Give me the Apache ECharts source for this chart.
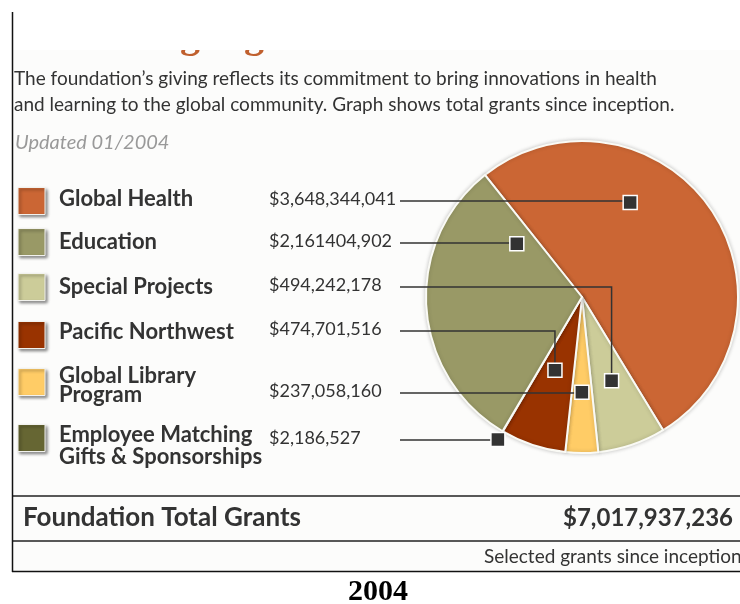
<!DOCTYPE html>
<html>
<head>
<meta charset="utf-8">
<script src="https://cdn.jsdelivr.net/npm/echarts@6/dist/echarts.min.js"></script>
<style>
  html, body { margin: 0; padding: 0; background: #fff; }
  #main { width: 740px; height: 604px; }
</style>
</head>
<body>
<div id="main"></div>
<script>
// legend order (top to bottom)
const categories = ['Global Health', 'Education', 'Special Projects', 'Pacific Northwest', 'Global Library Program', 'Employee Matching Gifts & Sponsorships']
const legendLines = [['Global Health'], ['Education'], ['Special Projects'], ['Pacific Northwest'], ['Global Library', 'Program'], ['Employee Matching', 'Gifts & Sponsorships']]
const grantValues = [3648344041, 2161404902, 494242178, 474701516, 237058160, 2186527]
const valueLabels = ['$3,648,344,041', '$2,161404,902', '$494,242,178', '$474,701,516', '$237,058,160', '$2,186,527']
const sliceColors = ['#cb6634', '#999966', '#cccc99', '#993300', '#ffcc66', '#666633']
// clockwise order of slices around the pie
const pieOrder = [0, 2, 4, 3, 5, 1]
const totalLabel = '$7,017,937,236'

const introLines = [
  'The foundation\u2019s giving reflects its commitment to bring innovations in health',
  'and learning to the global community. Graph shows total grants since inception.',
]

// layout
const CX = 582, CY = 297, R = 156
const START_CW = -38.5 // degrees clockwise from 12 o'clock
const FONT = 'Lato, "Open Sans", sans-serif'
const rowY = [201, 243, 287, 331, 393, 440]
const nameY = [[199], [242], [287], [332], [376, 395], [435, 457]]
const boxY = [201, 242, 287, 335, 382, 438]
// marker spot inside each slice: [fraction of slice angle, fraction of radius]
const markerSpot = [[0.35, 0.68], [0.89, 0.54], [0.47, 0.57], [0.58, 0.5], [0.5, 0.61], [0.5, 1.06]]

const chart = echarts.init(document.getElementById('main'))

function buildGraphic() {
  const g = []
  const total = grantValues.reduce((a, b) => a + b, 0)

  // slice angles, cw from top
  const sliceStart = {}
  let acc = START_CW
  pieOrder.forEach((i) => {
    const span = grantValues[i] / total * 360
    sliceStart[i] = [acc, span]
    acc += span
  })

  g.push({ type: 'rect', shape: { x: 13, y: 50, width: 727, height: 521 }, style: { fill: '#fcfcfb' }, z: 0 })

  // heading cut off at the top: only the lower loops of two g's show
  ;[190, 254].forEach((x) => {
    g.push({ type: 'text', x: x, y: 37, style: { text: 'g', font: 'bold 40px "Liberation Serif", serif', fill: '#c0602e', textAlign: 'center', textVerticalAlign: 'middle' }, z: 1 })
  })
  g.push({ type: 'rect', shape: { x: 13, y: 0, width: 727, height: 50 }, style: { fill: '#ffffff' }, z: 50 })

  // frame
  g.push({ type: 'line', shape: { x1: 12.5, y1: 12, x2: 12.5, y2: 572 }, style: { stroke: '#111', lineWidth: 1.5 }, z: 51 })
  g.push({ type: 'line', shape: { x1: 12, y1: 571.5, x2: 740, y2: 571.5 }, style: { stroke: '#111', lineWidth: 1.5 }, z: 3 })

  introLines.forEach((t, k) => {
    g.push({ type: 'text', x: 14, y: 79 + k * 26, style: { text: t, font: '19px ' + FONT, fill: '#333', textVerticalAlign: 'middle' }, z: 3 })
  })
  g.push({ type: 'text', x: 15, y: 143, style: { text: 'Updated 01/2004', font: 'italic 20px ' + FONT, fill: '#999', textVerticalAlign: 'middle' }, z: 3 })

  categories.forEach((c, i) => {
    g.push({
      type: 'rect', shape: { x: 18, y: boxY[i] - 13.5, width: 27, height: 27 },
      style: { fill: sliceColors[i], stroke: '#f2f2ee', lineWidth: 1, shadowBlur: 3, shadowOffsetX: 2, shadowOffsetY: 2, shadowColor: 'rgba(0,0,0,0.45)' },
      z: 3,
    })
    legendLines[i].forEach((t, k) => {
      g.push({ type: 'text', x: 59, y: nameY[i][k], style: { text: t, font: 'bold 22px ' + FONT, fill: '#333', textVerticalAlign: 'middle' }, z: 3 })
    })
    g.push({ type: 'text', x: 269, y: rowY[i] - 2, style: { text: valueLabels[i], font: '18px ' + FONT, fill: '#333', textVerticalAlign: 'middle' }, z: 3 })

    // marker inside the slice
    const [s, span] = sliceStart[i]
    const a = (s + span * markerSpot[i][0] - 90) * Math.PI / 180
    const mx = CX + R * markerSpot[i][1] * Math.cos(a)
    const my = CY + R * markerSpot[i][1] * Math.sin(a)
    g.push({
      type: 'polyline', shape: { points: [[400, rowY[i]], [mx, rowY[i]], [mx, my]] },
      style: { stroke: '#333', lineWidth: 1.5, fill: null }, z: 10,
    })
    g.push({
      type: 'rect', shape: { x: mx - 7, y: my - 7, width: 14, height: 14 },
      style: { fill: '#333', stroke: '#fff', lineWidth: 1.5 }, z: 11,
    })
  })

  // totals
  g.push({ type: 'line', shape: { x1: 12, y1: 496, x2: 740, y2: 496 }, style: { stroke: '#222', lineWidth: 1.5 }, z: 3 })
  g.push({ type: 'line', shape: { x1: 12, y1: 541, x2: 740, y2: 541 }, style: { stroke: '#222', lineWidth: 1.5 }, z: 3 })
  g.push({ type: 'text', x: 23, y: 518, style: { text: 'Foundation Total Grants', font: 'bold 26px ' + FONT, fill: '#333', textVerticalAlign: 'middle' }, z: 3 })
  g.push({ type: 'text', x: 733, y: 518, style: { text: totalLabel, font: 'bold 24px ' + FONT, fill: '#333', textAlign: 'right', textVerticalAlign: 'middle' }, z: 3 })
  g.push({ type: 'text', x: 484, y: 557, style: { text: 'Selected grants since inception', font: '19px ' + FONT, fill: '#333', textVerticalAlign: 'middle' }, z: 3 })

  g.push({ type: 'text', x: 378, y: 592, style: { text: '2004', font: 'bold 30px "Liberation Serif", serif', fill: '#000', textAlign: 'center', textVerticalAlign: 'middle' }, z: 3 })
  return g
}

chart.setOption({
  animation: false,
  backgroundColor: '#fff',
  graphic: buildGraphic(),
  series: [
    {
      type: 'pie',
      silent: true,
      center: [CX, CY],
      radius: R,
      startAngle: 90 - START_CW,
      clockwise: true,
      label: { show: false },
      labelLine: { show: false },
      itemStyle: {
        borderColor: '#fafaf5',
        borderWidth: 2,
        shadowBlur: 4,
        shadowColor: 'rgba(0,0,0,0.2)',
      },
      data: pieOrder.map((i) => ({
        name: categories[i],
        value: grantValues[i],
        itemStyle: { color: sliceColors[i] },
      })),
      z: 5,
    },
  ],
})
</script>
</body>
</html>
